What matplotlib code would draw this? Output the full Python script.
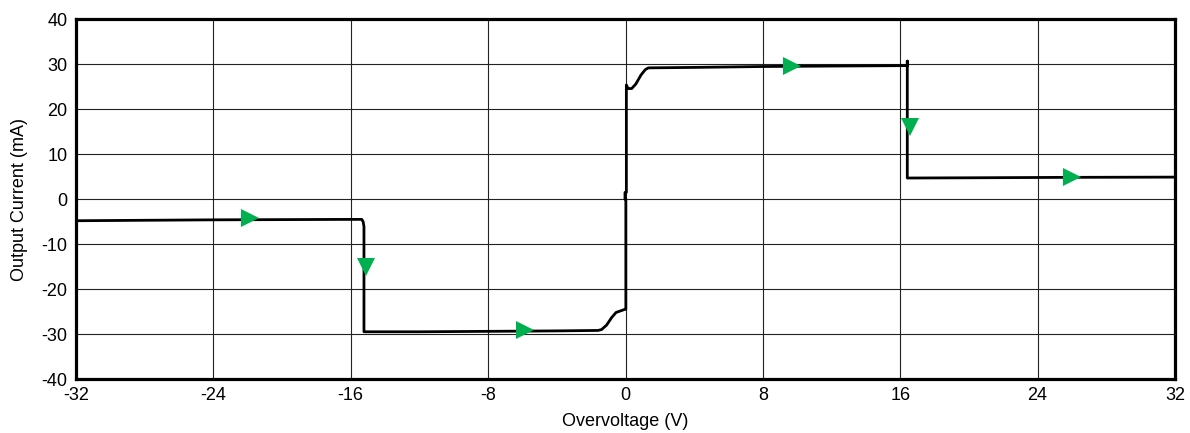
import matplotlib
matplotlib.use("Agg")
import matplotlib.pyplot as plt

# Curve (overvoltage V, output current mA)
volt = [-32.0, -24.0, -16.0, -15.36, -15.28, -15.23, -15.23, -12.0, -8.0, -4.0, -1.6,
        -1.39, -1.1, -0.8, -0.55, -0.4, -0.03, 0.02, 0.02, -0.03, -0.03, 0.05, 0.05,
        0.15, 0.36, 0.6, 0.9, 1.15, 1.33, 4.0, 8.0, 12.0, 16.41, 16.41, 16.41, 20.0, 26.0, 32.0]
current = [-4.8, -4.6, -4.5, -4.5, -5.0, -6.1, -29.5, -29.5, -29.4, -29.3, -29.2,
           -29.0, -28.0, -26.3, -25.2, -25.0, -24.5, -24.5, 0.0, 0.0, 1.5, 1.5, 25.4,
           24.6, 24.6, 25.6, 27.6, 28.8, 29.2, 29.3, 29.5, 29.6, 29.7, 30.7, 4.7, 4.75, 4.85, 4.9]

# Direction arrows: (x, y, direction)
arrow_x = [-21.87, -15.13, -5.85, 9.70, 16.55, 25.99]
arrow_y = [-4.2, -15.0, -29.2, 29.7, 16.1, 5.0]
arrow_dir = [">", "v", ">", ">", "v", ">"]

xticks = [-32, -24, -16, -8, 0, 8, 16, 24, 32]
yticks = [-40, -30, -20, -10, 0, 10, 20, 30, 40]

plt.rcParams["font.family"] = ["Liberation Sans", "DejaVu Sans"]

fig = plt.figure(figsize=(11.9, 4.33), dpi=100)
ax = fig.add_axes([76 / 1190, 1 - 379 / 433, (1175 - 76) / 1190, (379 - 19.3) / 433])

ax.set_xlim(-32, 32)
ax.set_ylim(-40, 40)
ax.set_xticks(xticks)
ax.set_yticks(yticks)
ax.set_xticklabels([str(t) for t in xticks])
ax.set_yticklabels([str(t) for t in yticks])
ax.grid(True, color="#222222", linewidth=0.8)
ax.set_axisbelow(True)
ax.tick_params(length=0, labelsize=13, pad=6)

for s in ax.spines.values():
    s.set_linewidth(2.3)
    s.set_color("black")

ax.plot(volt, current, color="black", linewidth=2.0, solid_joinstyle="round", zorder=3)

for xa, ya, d in zip(arrow_x, arrow_y, arrow_dir):
    ax.plot([xa], [ya], marker=d, markersize=12.5, color="#00B050",
            markeredgewidth=0, linestyle="none", zorder=4)

ax.set_xlabel("Overvoltage (V)", fontsize=13, labelpad=6)
ax.set_ylabel("Output Current (mA)", fontsize=13, labelpad=10)

fig.savefig("out.png", dpi=100)
